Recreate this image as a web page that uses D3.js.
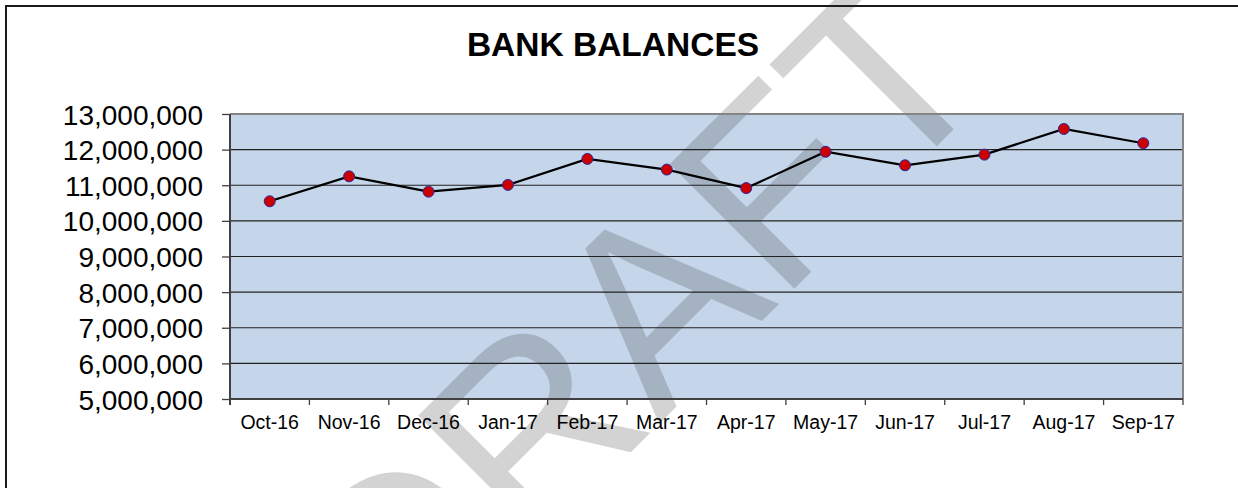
<html>
<head>
  <meta charset="utf-8">
  <script src="https://d3js.org/d3.v7.min.js"></script>
  <style>
    body { margin: 0; background: #fff; }
    text { font-family: "Liberation Sans", Arial, sans-serif; }
  </style>
</head>
<body>
<script>
  var width = 1238, height = 488;

  // data
  var months = ["Oct-16", "Nov-16", "Dec-16", "Jan-17", "Feb-17", "Mar-17",
                "Apr-17", "May-17", "Jun-17", "Jul-17", "Aug-17", "Sep-17"];
  var balances = [10550000, 11250000, 10820000, 11010000, 11740000, 11440000,
                  10920000, 11940000, 11560000, 11860000, 12580000, 12180000];
  var yTicks = [5000000, 6000000, 7000000, 8000000, 9000000,
                10000000, 11000000, 12000000, 13000000];

  var plot = {left: 230, right: 1183, top: 114, bottom: 399};

  var svg = d3.select("body").append("svg")
      .attr("width", width).attr("height", height);

  // outer chart frame (runs off the picture right and bottom)
  svg.append("rect")
      .attr("x", 6).attr("y", 6)
      .attr("width", 1400).attr("height", 700)
      .attr("fill", "#fff")
      .attr("stroke", "#1a1a1a").attr("stroke-width", 2);

  var x = d3.scaleBand().domain(months).range([plot.left, plot.right]).padding(0);
  var y = d3.scaleLinear().domain([5000000, 13000000]).range([plot.bottom, plot.top]);

  // plot area
  svg.append("rect")
      .attr("x", plot.left).attr("y", plot.top)
      .attr("width", plot.right - plot.left).attr("height", plot.bottom - plot.top)
      .attr("fill", "#c5d5ea");

  // DRAFT watermark, under the lines and labels
  svg.append("text")
      .attr("transform", "translate(699,384) rotate(-45)")
      .attr("text-anchor", "middle")
      .attr("font-size", 256)
      .attr("fill", "#2f2f2f").attr("fill-opacity", 0.21)
      .text("DRAFT");

  // gridlines
  svg.append("g").selectAll("line")
      .data(yTicks.slice(1, -1))
      .join("line")
      .attr("x1", plot.left).attr("x2", plot.right)
      .attr("y1", function(d) { return y(d); })
      .attr("y2", function(d) { return y(d); })
      .attr("stroke", "#222").attr("stroke-width", 1.2);

  // top + right border of plot
  svg.append("path")
      .attr("d", "M" + plot.left + "," + plot.top + "H" + plot.right + "V" + plot.bottom)
      .attr("fill", "none").attr("stroke", "#858585").attr("stroke-width", 2);

  // y axis
  var yAxis = d3.axisLeft(y).tickValues(yTicks)
      .tickFormat(d3.format(",")).tickSize(8).tickPadding(19);
  var gy = svg.append("g")
      .attr("transform", "translate(" + plot.left + ",0)")
      .call(yAxis);
  gy.select(".domain").attr("stroke", "#404040").attr("stroke-width", 2)
      .attr("d", "M0," + plot.top + "V" + (plot.bottom + 6));
  gy.selectAll(".tick line").attr("stroke", "#404040").attr("stroke-width", 1.3);
  gy.selectAll(".tick text")
      .attr("font-family", "Liberation Sans, Arial, sans-serif")
      .attr("font-size", 28).attr("fill", "#000").attr("dy", "0.36em");

  // x axis: labels in category centres, ticks on category edges
  var xAxis = d3.axisBottom(x).tickSize(0).tickPadding(16);
  var gx = svg.append("g")
      .attr("transform", "translate(0," + plot.bottom + ")")
      .call(xAxis);
  gx.select(".domain").attr("stroke", "#404040").attr("stroke-width", 2)
      .attr("d", "M" + plot.left + ",0H" + plot.right);
  gx.selectAll(".tick text")
      .attr("font-family", "Liberation Sans, Arial, sans-serif")
      .attr("font-size", 19.5).attr("fill", "#000").attr("dy", "0.71em");

  var edges = months.map(function(m) { return x(m); }).concat([x.range()[1]]);
  gx.append("g").selectAll("line")
      .data(edges)
      .join("line")
      .attr("x1", function(d) { return d; }).attr("x2", function(d) { return d; })
      .attr("y1", 0).attr("y2", 6)
      .attr("stroke", "#404040").attr("stroke-width", 1.3);

  // series
  var pts = months.map(function(m, i) {
    return {x: x(m) + x.bandwidth() / 2, y: y(balances[i])};
  });
  svg.append("path")
      .datum(pts)
      .attr("d", d3.line().x(function(d) { return d.x; }).y(function(d) { return d.y; }))
      .attr("fill", "none").attr("stroke", "#000").attr("stroke-width", 2.2);

  svg.append("g").selectAll("circle")
      .data(pts)
      .join("circle")
      .attr("cx", function(d) { return d.x; })
      .attr("cy", function(d) { return d.y; })
      .attr("r", 5.5)
      .attr("fill", "#cc0000").attr("stroke", "#2a2aa0").attr("stroke-width", 1);

  // title
  svg.append("text")
      .attr("x", 613).attr("y", 56)
      .attr("text-anchor", "middle")
      .attr("font-size", 33.5).attr("font-weight", "bold")
      .attr("fill", "#000")
      .text("BANK BALANCES");
</script>
</body>
</html>
